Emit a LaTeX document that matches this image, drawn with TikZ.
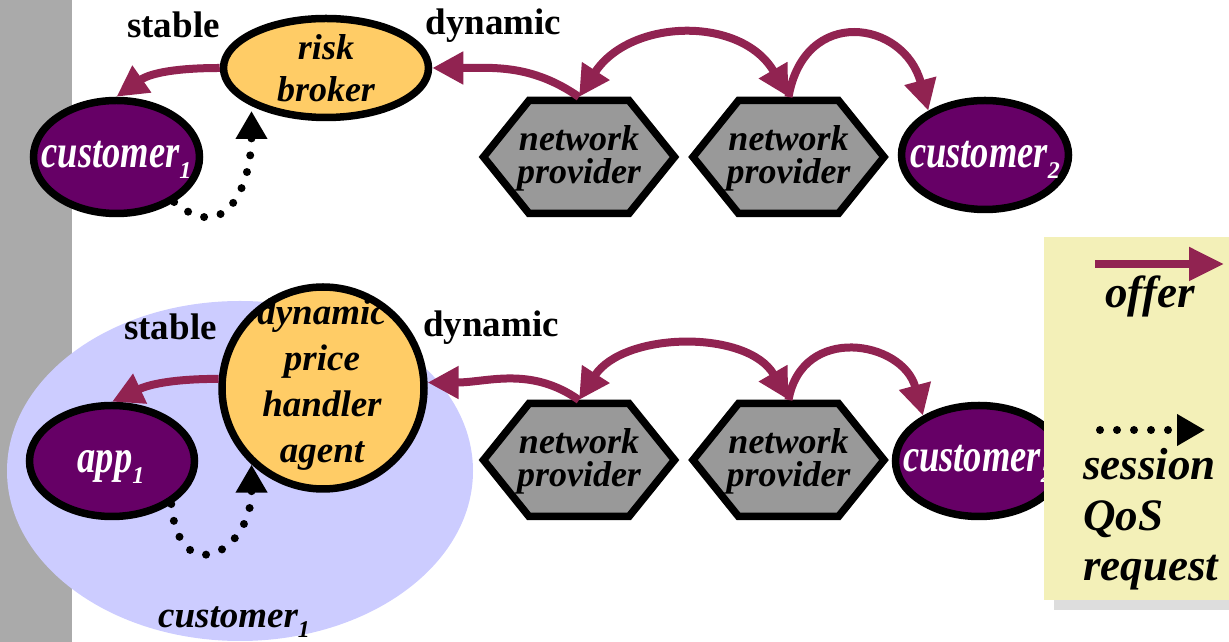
\documentclass[tikz,border=0pt]{standalone}
\usepackage{fontspec}
\setmainfont{Liberation Serif}
\usepackage{graphicx}
\usetikzlibrary{arrows.meta,shapes.geometric}

\definecolor{barGray}{HTML}{AAAAAA}
\definecolor{custPurple}{HTML}{660066}
\definecolor{offerRed}{HTML}{912351}
\definecolor{agentGold}{HTML}{FFCC66}
\definecolor{provGray}{HTML}{999999}
\definecolor{domainBlue}{HTML}{CCCCFF}
\definecolor{legendYellow}{HTML}{F3F0B8}
\definecolor{shadowGray}{HTML}{DDDDDD}

% lowered index digit, e.g. customer_1
\newcommand\subidx[1]{\raisebox{-11pt}{\fontsize{24}{24}\selectfont #1}}
% party names are set a little taller than wide
\newcommand\tallword[1]{\scalebox{1}[1.28]{#1}}

\begin{document}
\begin{tikzpicture}[x=1pt,y=1pt,
  every node/.style={inner sep=0pt},
  rim/.style={draw=black, line width=7.5pt},
  party/.style={rim, ellipse, fill=custPurple},
  broker/.style={rim, ellipse, fill=agentGold},
  agent/.style={rim, circle, fill=agentGold, minimum size=202pt},
  provslot/.style={rectangle, minimum width=202pt, minimum height=120pt, outer sep=0pt},
  hexagon/.style={draw=black, line width=7.5pt, fill=provGray, line join=miter},
  role/.style={font=\fontsize{37}{44}\selectfont\bfseries, anchor=base},
  partytext/.style={font=\fontsize{36.5}{40}\selectfont\bfseries\itshape, text=white, anchor=base},
  nodetext/.style={align=center},
  provtext/.style={font=\fontsize{36}{33}\selectfont\bfseries\itshape, align=center},
  legendtext/.style={font=\fontsize{45}{50}\selectfont\bfseries\itshape},
  offer/.style={draw=offerRed, line width=8pt, -{Triangle[length=31pt,width=31pt]}},
  offerboth/.style={draw=offerRed, line width=8pt, {Triangle[length=31pt,width=31pt]}-{Triangle[length=31pt,width=31pt]}},
  session/.style={draw=black, line width=8pt, line cap=round, dash pattern=on 0pt off 17pt, -{Triangle[length=28pt,width=30pt]}},
]
\useasboundingbox (0,0) rectangle (1229,642);

% left margin bar
\fill[barGray] (0,0) rectangle (72,642);

% customer domain in the lower row
\node[ellipse, fill=domainBlue, minimum width=466pt, minimum height=340pt] (dom) at (240,171) {};

% ---------- upper row ----------
\node[broker, minimum width=205pt, minimum height=99pt] (rb) at (326,574) {};
\node[nodetext, font=\fontsize{36}{42}\selectfont\bfseries\itshape] (rbt) at (326,573.5) {risk\\broker};

\node[party, minimum width=166pt, minimum height=113pt] (c1) at (116.5,485) {};
\node[partytext] (c1t) at (116.5,474) {\tallword{customer}\subidx{1}};

\node[provslot] (np1) at (579,485) {};
\draw[hexagon, shift={(np1.center)}] (-95.5,0) -- (-50,56.5) -- (50,56.5) -- (95.5,0) -- (50,-56.5) -- (-50,-56.5) -- cycle;
\node[provtext] (np1t) at (579,484) {network\\provider};

\node[provslot] (np2) at (788.5,485) {};
\draw[hexagon, shift={(np2.center)}] (-95.5,0) -- (-50,56.5) -- (50,56.5) -- (95.5,0) -- (50,-56.5) -- (-50,-56.5) -- cycle;
\node[provtext] (np2t) at (788.5,484) {network\\provider};

\node[party, minimum width=167pt, minimum height=109pt] (c2) at (985,487) {};
\node[partytext] (c2t) at (985,474) {\tallword{customer}\subidx{2}};

\node[role] (st1) at (173.5,604) {stable};
\node[role] (dy1) at (493.5,607) {dynamic};

% ---------- lower row ----------
\node[agent] (dph) at (323,254) {};
\node[nodetext, font=\fontsize{37}{46}\selectfont\bfseries\itshape] (dpht) at (322,257) {dynamic\\price\\handler\\agent};

\node[party, minimum width=165pt, minimum height=111pt] (app) at (112,181) {};
\node[partytext] (appt) at (111,169) {\tallword{app}\subidx{1}};

\node[provslot] (np3) at (579,182) {};
\draw[hexagon, shift={(np3.center)}] (-95.5,0) -- (-50,56.5) -- (50,56.5) -- (95.5,0) -- (50,-56.5) -- (-50,-56.5) -- cycle;
\node[provtext] (np3t) at (579,181) {network\\provider};

\node[provslot] (np4) at (788.5,182) {};
\draw[hexagon, shift={(np4.center)}] (-95.5,0) -- (-50,56.5) -- (50,56.5) -- (95.5,0) -- (50,-56.5) -- (-50,-56.5) -- cycle;
\node[provtext] (np4t) at (788.5,181) {network\\provider};

\node[party, minimum width=167pt, minimum height=111pt] (c3) at (979,181) {};
\node[partytext] (c3t) at (978,170) {\tallword{customer}\subidx{2}};

\node[role] (st2) at (170.5,302) {stable};
\node[role] (dy2) at (491,305) {dynamic};
\node[role, font=\fontsize{37}{44}\selectfont\bfseries\itshape, anchor=base west] (domlbl) at (158,14) {customer\raisebox{-10pt}{\fontsize{24}{24}\selectfont 1}};

% ---------- offers (upper row) ----------
\draw[offer] (rb.west) to[out=180,in=35] (c1.north);
\draw[offer] (np1.north) to[out=145,in=0] (rb.east);
\draw[offerboth] (np1.north) to[out=57,in=120,looseness=1.15] (np2.north);
\draw[offer] (np2.north) to[out=80,in=105,looseness=1.7] (c2.142);
\draw[session, shorten >=5pt] (c1.-38) to[out=-40,in=-90,looseness=1.5] (rb.207);

% ---------- offers (lower row) ----------
\draw[offer] (dph.175) to[out=180,in=25] (app.north);
\draw[offer] (np3.north) to[out=145,in=0] (dph.3);
\draw[offerboth] (np3.north) to[out=57,in=120,looseness=1.0] (np4.north);
\draw[offer] (np4.north) to[out=80,in=105,looseness=1.47] (c3.141);
\draw[session] (app.-36) to[out=-85,in=-90,looseness=2.5] (dph.227);

% ---------- legend ----------
\fill[shadowGray] (1054,32) rectangle (1240,395);
\node[rectangle, fill=legendYellow, minimum width=196pt, minimum height=363pt, anchor=south west] (legend) at (1044,42) {};
\coordinate (offerFrom) at (1095,378);
\coordinate (offerTo) at (1224,378);
\draw[offer, -{Triangle[length=35pt,width=32pt]}] (offerFrom) -- (offerTo);
\node[legendtext, anchor=base] (offerlbl) at (1150,334) {offer};
\coordinate (sessFrom) at (1100,212);
\coordinate (sessTo) at (1205,212);
\draw[session] (sessFrom) -- (sessTo);
\node[legendtext, anchor=base west] (sess1) at (1083,162) {session};
\node[legendtext, anchor=base west] (sess2) at (1083,111) {QoS};
\node[legendtext, anchor=base west] (sess3) at (1083,61) {request};
\end{tikzpicture}
\end{document}
